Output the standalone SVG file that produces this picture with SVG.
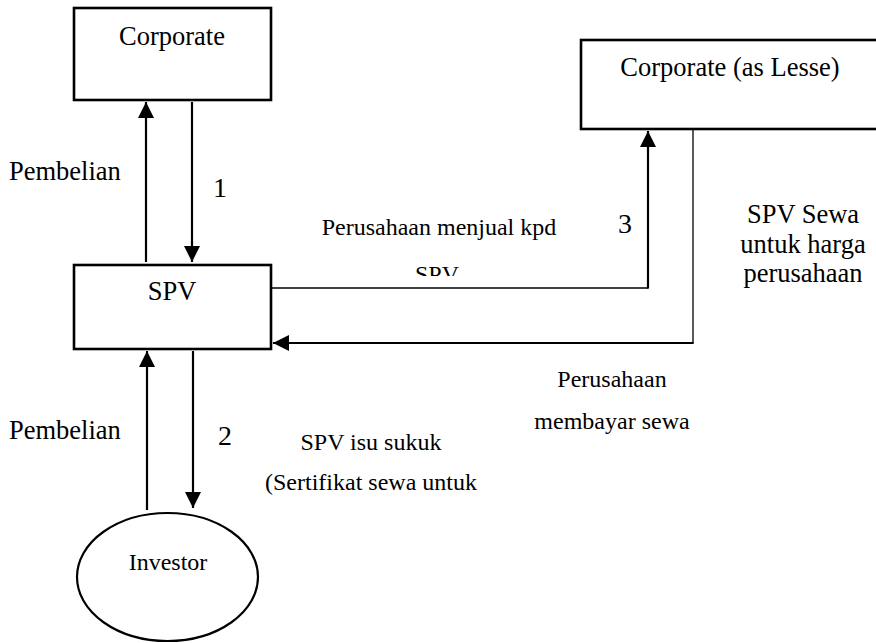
<svg xmlns="http://www.w3.org/2000/svg" width="876" height="643" viewBox="0 0 876 643">
<style>
  .box { fill: #fff; stroke: #000; stroke-width: 2.6; }
  .thick { fill: none; stroke: #000; stroke-width: 2.2; }
  .thin { fill: none; stroke: #000; stroke-width: 1.3; }
  .lbl { font-size: 26.5px; }
  .sm { font-size: 24px; }
  .num { font-size: 28px; }
</style>
<defs>
  <marker id="arr" viewBox="0 0 16 16" refX="16" refY="8" markerWidth="16" markerHeight="16" markerUnits="userSpaceOnUse" orient="auto">
    <path d="M0,0 L16,8 L0,16 Z" fill="#000"/>
  </marker>
  <clipPath id="clipSpv"><rect x="380" y="240" width="120" height="36"/></clipPath>
</defs>
<rect width="876" height="643" fill="#fff"/>

<g font-family="Liberation Serif, Times New Roman, serif" fill="#000">
<g id="corporate">
  <rect class="box" x="74" y="8" width="197" height="92"/>
  <text class="lbl" x="172" y="45" text-anchor="middle">Corporate</text>
</g>

<g id="spv">
  <rect class="box" x="74" y="265" width="197" height="84"/>
  <text class="lbl" x="172" y="300" text-anchor="middle">SPV</text>
</g>

<g id="lessee">
  <rect class="box" x="581" y="40" width="320" height="89"/>
  <text class="lbl" x="730" y="76" text-anchor="middle">Corporate (as Lesse)</text>
</g>

<g id="investor">
  <ellipse cx="167.5" cy="577" rx="90.5" ry="64" fill="#fff" stroke="#000" stroke-width="2.2"/>
  <text class="sm" x="168" y="570" text-anchor="middle">Investor</text>
</g>

<g id="connectors">
  <line class="thick" x1="146" y1="262" x2="146" y2="102" marker-end="url(#arr)"/>
  <line class="thick" x1="192" y1="102" x2="192" y2="262" marker-end="url(#arr)"/>
  <line class="thick" x1="147" y1="510" x2="147" y2="351" marker-end="url(#arr)"/>
  <line class="thick" x1="193" y1="351" x2="193" y2="508" marker-end="url(#arr)"/>
  <line class="thin" x1="272" y1="288" x2="648" y2="288"/>
  <line class="thick" x1="648" y1="288.6" x2="648" y2="131" marker-end="url(#arr)"/>
  <line class="thin" x1="693" y1="130" x2="693" y2="343"/>
  <line class="thick" x1="693.6" y1="343" x2="273" y2="343" marker-end="url(#arr)"/>
</g>

<g id="labels">
  <text class="lbl" x="9" y="180">Pembelian</text>
  <text class="num" x="213" y="197">1</text>
  <text class="sm" x="439" y="235" text-anchor="middle">Perusahaan menjual kpd</text>
  <text class="sm" x="437" y="282" text-anchor="middle" clip-path="url(#clipSpv)">SPV</text>
  <text class="num" x="618" y="233">3</text>
  <text class="lbl" x="803" y="223" text-anchor="middle">SPV Sewa</text>
  <text class="lbl" x="803" y="253" text-anchor="middle">untuk harga</text>
  <text class="lbl" x="803" y="282" text-anchor="middle">perusahaan</text>
  <text class="sm" x="612" y="387" text-anchor="middle">Perusahaan</text>
  <text class="sm" x="612" y="429" text-anchor="middle">membayar sewa</text>
  <text class="lbl" x="9" y="439">Pembelian</text>
  <text class="num" x="218" y="445">2</text>
  <text class="sm" x="371" y="450" text-anchor="middle">SPV isu sukuk</text>
  <text class="sm" x="371" y="490" text-anchor="middle">(Sertifikat sewa untuk</text>
</g>
</g>
</svg>
